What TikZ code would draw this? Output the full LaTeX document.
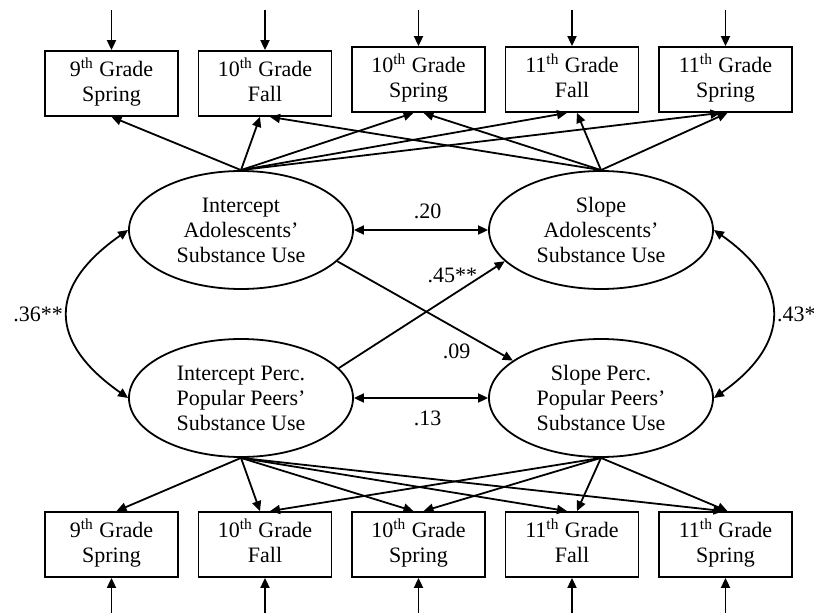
\documentclass[tikz,border=0pt]{standalone}
\usepackage{fontspec}
\setmainfont{Liberation Serif}
\usetikzlibrary{positioning, arrows.meta, shapes.geometric}

\begin{document}
\begin{tikzpicture}[x=0.5pt, y=-0.5pt, line width=0.9pt,
  >={Triangle[length=5pt, width=4.5pt]},
  obs/.style={draw, align=center, font=\fontsize{11}{12.5}\selectfont, inner sep=0pt, minimum width=66.5pt, minimum height=32.5pt,
    execute at begin node=\rule{0pt}{11.75pt}, execute at end node=\strut},
  lat/.style={draw, ellipse, align=center, font=\fontsize{11}{12.5}\selectfont, inner sep=0pt, minimum width=112pt, minimum height=59pt},
  est/.style={font=\fontsize{11}{12.5}\selectfont, inner sep=2pt}]
  \useasboundingbox (0,0) rectangle (814,614);
  % adolescents' indicators
  \node[obs] (t1) at (111.5,83.5) {9\textsuperscript{th} Grade\\Spring};
  \node[obs, right=9.35pt of t1] (t2) {10\textsuperscript{th} Grade\\Fall};
  \node[obs, right=9.35pt of t2, yshift=2pt] (t3) {10\textsuperscript{th} Grade\\Spring};
  \node[obs, right=9.35pt of t3] (t4) {11\textsuperscript{th} Grade\\Fall};
  \node[obs, right=9.35pt of t4] (t5) {11\textsuperscript{th} Grade\\Spring};
  % growth factors
  \node[lat] (ias) at (241,230) {Intercept\\Adolescents’\\Substance Use};
  \node[lat, right=67.1pt of ias] (sas) {Slope\\Adolescents’\\Substance Use};
  \node[lat, below=24.1pt of ias] (ipp) {Intercept Perc.\\Popular Peers’\\Substance Use};
  \node[lat, below=24.1pt of sas] (spp) {Slope Perc.\\Popular Peers’\\Substance Use};
  % peers' indicators
  \node[obs] (b1) at (111.5,544.5) {9\textsuperscript{th} Grade\\Spring};
  \node[obs, right=9.35pt of b1] (b2) {10\textsuperscript{th} Grade\\Fall};
  \node[obs, right=9.35pt of b2] (b3) {10\textsuperscript{th} Grade\\Spring};
  \node[obs, right=9.35pt of b3] (b4) {11\textsuperscript{th} Grade\\Fall};
  \node[obs, right=9.35pt of b4] (b5) {11\textsuperscript{th} Grade\\Spring};
  % residuals
  \coordinate[above=20pt of t1] (e1);  \coordinate[above=20pt of t2] (e2);
  \coordinate[above=18pt of t3] (e3);  \coordinate[above=18pt of t4] (e4);
  \coordinate[above=18pt of t5] (e5);
  \coordinate[below=17.5pt of b1] (r1);  \coordinate[below=17.5pt of b2] (r2);
  \coordinate[below=17.5pt of b3] (r3);  \coordinate[below=17.5pt of b4] (r4);
  \coordinate[below=17.5pt of b5] (r5);
  \draw[->] (e1) -- (t1);  \draw[->] (e2) -- (t2);  \draw[->] (e3) -- (t3);
  \draw[->] (e4) -- (t4);  \draw[->] (e5) -- (t5);
  \draw[->] (r1) -- (b1);  \draw[->] (r2) -- (b2);  \draw[->] (r3) -- (b3);
  \draw[->] (r4) -- (b4);  \draw[->] (r5) -- (b5);
  % loadings
  \draw[->] (ias.north) -- (t1.south);
  \draw[->] (ias.north) -- ([xshift=-2.5pt]t2.south);  \draw[->] (sas.north) -- ([xshift=2.5pt]t2.south);
  \draw[->] (ias.north) -- ([xshift=-2.5pt]t3.south);  \draw[->] (sas.north) -- ([xshift=2.5pt]t3.south);
  \draw[->] (ias.north) -- ([xshift=-2.5pt]t4.south);  \draw[->] (sas.north) -- ([xshift=2.5pt]t4.south);
  \draw[->] (ias.north) -- ([xshift=-2.5pt]t5.south);  \draw[->] (sas.north) -- ([xshift=1pt]t5.south);
  \draw[->] (ipp.south) -- ([xshift=2.5pt]b1.north);
  \draw[->] (ipp.south) -- ([xshift=-2.5pt]b2.north);  \draw[->] (spp.south) -- ([xshift=2.5pt]b2.north);
  \draw[->] (ipp.south) -- ([xshift=-2.5pt]b3.north);  \draw[->] (spp.south) -- ([xshift=2.5pt]b3.north);
  \draw[->] (ipp.south) -- ([xshift=-2.5pt]b4.north);  \draw[->] (spp.south) -- ([xshift=2.5pt]b4.north);
  \draw[->] (ipp.south) -- ([xshift=-1pt]b5.north);   \draw[->] (spp.south) -- ([xshift=1pt]b5.north);
  % structural paths and covariances
  \draw[<->] (ias) -- node[est, above=3pt, pos=.55] {.20} (sas);
  \draw[<->] (ipp) -- node[est, below=4pt, pos=.55] {.13} (spp);
  \draw[->] (ias.-18) -- node[est, below=5pt, pos=.68] {.09} (spp.157);
  \draw[->] (ipp.17) -- node[est, above=3.8pt, pos=.685] {.45**} (sas.198);
  \draw[<->] (ias.west) to[out=215, in=145, looseness=1.5] node[est, left] {.36**} (ipp.west);
  \draw[<->] (sas.east) to[out=-35, in=35, looseness=1.45] node[est, right] {.43*} (spp.east);
\end{tikzpicture}
\end{document}
